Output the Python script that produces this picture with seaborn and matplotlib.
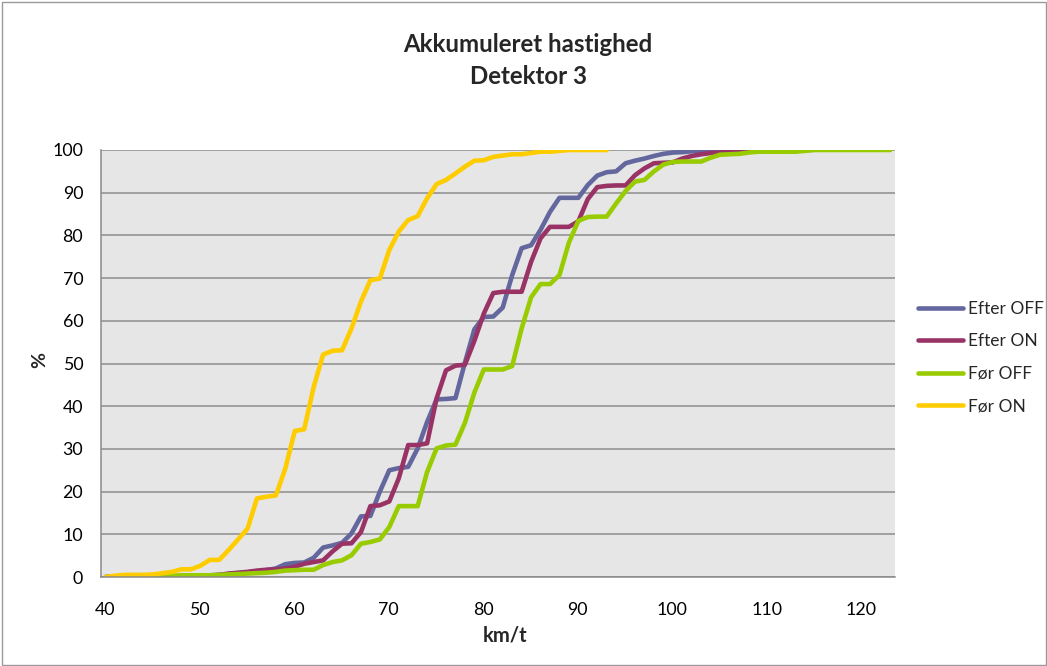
import matplotlib
matplotlib.use("Agg")
import matplotlib.pyplot as plt
import seaborn as sns
import pandas as pd
from matplotlib.transforms import ScaledTranslation
from matplotlib.patches import Rectangle

# ---------------- data ----------------
speeds = [40.5, 41.5, 42.5, 43.5, 44.5, 45.5, 46.5, 47.5, 48.5, 49.5,
          50.5, 51.5, 52.5, 53.5, 54.5, 55.5, 56.5, 57.5, 58.5, 59.5,
          60.5, 61.5, 62.5, 63.5, 64.5, 65.5, 66.5, 67.5, 68.5, 69.5,
          70.5, 71.5, 72.5, 73.5, 74.5, 75.5, 76.5, 77.5, 78.5, 79.5,
          80.5, 81.5, 82.5, 83.5, 84.5, 85.5, 86.5, 87.5, 88.5, 89.5,
          90.5, 91.5, 92.5, 93.5, 94.5, 95.5, 96.5, 97.5, 98.5, 99.5,
          100.5, 101.5, 102.5, 103.5, 104.5, 105.5, 106.5, 107.5, 108.5, 109.5,
          110.5, 111.5, 112.5, 113.5, 114.5, 115.5, 116.5, 117.5, 118.5, 119.5,
          120.5, 121.5, 122.5, 123.5]

efter_off = [0, 0, 0, 0, 0, 0, 0, 0, 0.1, 0.2,
             0.3, 0.4, 0.5, 0.7, 0.9, 1.1, 1.3, 1.6, 2.0, 3.0,
             3.3, 3.4, 4.5, 6.9, 7.4, 8.0, 10.2, 14.2, 14.3, 20.0,
             25.0, 25.5, 25.8, 30.1, 36.3, 41.6, 41.7, 41.9, 50.2, 58.0,
             60.9, 61.0, 63.1, 70.7, 77.0, 77.7, 81.3, 85.5, 88.8, 88.8,
             88.8, 91.8, 94.0, 94.8, 95.0, 96.9, 97.5, 98.0, 98.6, 99.1,
             99.4, 99.5, 99.7, 99.8, 100, 100, 100]

efter_on = [0, 0, 0, 0, 0, 0, 0, 0, 0, 0,
            0.1, 0.3, 0.5, 0.8, 1.0, 1.2, 1.5, 1.7, 1.8, 2.0,
            2.4, 3.1, 3.5, 3.9, 6.0, 7.8, 7.9, 10.5, 16.6, 16.8,
            17.7, 23.1, 30.9, 30.9, 31.3, 41.8, 48.4, 49.5, 49.7, 55.3,
            61.7, 66.5, 66.8, 66.8, 66.8, 73.8, 79.3, 82.0, 82.0, 82.0,
            83.3, 88.5, 91.3, 91.6, 91.7, 91.7, 94.1, 95.7, 96.9, 97.0,
            97.1, 98.0, 98.6, 99.0, 99.3, 99.4, 99.6, 99.8, 100, 100]

foer_off = [0, 0, 0, 0, 0, 0.1, 0.2, 0.3, 0.4, 0.4,
            0.4, 0.4, 0.5, 0.6, 0.7, 0.8, 0.9, 1.0, 1.2, 1.5,
            1.6, 1.7, 1.7, 2.8, 3.5, 3.9, 5.1, 7.8, 8.2, 8.8,
            11.7, 16.6, 16.6, 16.6, 24.6, 30.1, 30.8, 31.0, 36.1, 43.2,
            48.6, 48.6, 48.6, 49.4, 58.2, 65.5, 68.6, 68.6, 70.7, 78.3,
            83.4, 84.3, 84.4, 84.4, 87.5, 90.4, 92.6, 93.0, 95.0, 96.6,
            97.2, 97.3, 97.3, 97.3, 98.2, 98.9, 99.0, 99.1, 99.4, 99.6,
            99.6, 99.6, 99.6, 99.6, 99.8, 100, 100, 100, 100, 100,
            100, 100, 100, 100]

foer_on = [0, 0.3, 0.5, 0.5, 0.5, 0.6, 0.9, 1.2, 1.8, 1.8,
           2.6, 4.0, 4.0, 6.3, 8.8, 11.3, 18.4, 18.8, 19.1, 25.4,
           34.2, 34.6, 44.5, 52.1, 53.0, 53.1, 58.2, 64.5, 69.5, 69.9,
           76.6, 80.9, 83.6, 84.5, 88.7, 92.0, 93.0, 94.5, 96.1, 97.5,
           97.6, 98.4, 98.7, 99.0, 99.0, 99.3, 99.6, 99.6, 99.8, 100,
           100, 100, 100, 100]

series_names = ["Efter OFF", "Efter ON", "Før OFF", "Før ON"]
series_values = [efter_off, efter_on, foer_off, foer_on]
colors = ["#64679e", "#993366", "#99cc00", "#ffcc00"]

x_ticks = [40, 50, 60, 70, 80, 90, 100, 110, 120]
y_ticks = [0, 10, 20, 30, 40, 50, 60, 70, 80, 90, 100]

title_lines = ["Akkumuleret hastighed", "Detektor 3"]
x_label = "km/t"
y_label = "%"

# ---------------- long table ----------------
rows = []
for name, vals in zip(series_names, series_values):
    for s, v in zip(speeds[:len(vals)], vals):
        rows.append({"km/t": s, "pct": v, "serie": name})
df = pd.DataFrame(rows)

# ---------------- style ----------------
sns.set_style("white")
plt.rcParams["font.family"] = ["Lato", "DejaVu Sans"]

W, H = 1047, 666
fig = plt.figure(figsize=(W / 100, H / 100), dpi=100)
L, R, T, B = 101, 895, 150, 577
ax = fig.add_axes([L / W, 1 - B / H, (R - L) / W, (B - T) / H])

sns.lineplot(data=df, x="km/t", y="pct", hue="serie", hue_order=series_names,
             palette=dict(zip(series_names, colors)), linewidth=3.3,
             estimator=None, sort=False, ax=ax)
for ln in ax.get_lines():
    ln.set_solid_joinstyle("round")
    ln.set_solid_capstyle("round")

ax.set_facecolor("#e6e6e6")
ax.set_xlim(40, 124)
ax.set_ylim(0, 100)
ax.set_xticks(x_ticks)
ax.set_yticks(y_ticks)
ax.yaxis.grid(True, color="#8c8c8c", linewidth=1.1)
ax.xaxis.grid(False)
ax.set_axisbelow(True)
for sp in ["top", "right"]:
    ax.spines[sp].set_visible(False)
for sp in ["left", "bottom"]:
    ax.spines[sp].set_color("#8a8a8a")
    ax.spines[sp].set_linewidth(1.1)
ax.tick_params(axis="both", direction="out", length=4.3, width=1, color="#8a8a8a",
               labelsize=12.8, labelcolor="black")
ax.tick_params(axis="x", pad=13.5)
ax.tick_params(axis="y", pad=8.5)
for lab in ax.get_xticklabels():
    lab.set_transform(lab.get_transform() + ScaledTranslation(4 / 100, 0, fig.dpi_scale_trans))
ax.set_xlabel("")
ax.set_ylabel("")

fig.text(505 / W, 1 - 635 / H, x_label, ha="center", va="center",
         fontsize=14.5, fontweight="bold")
fig.text(40 / W, 1 - 360 / H, y_label, ha="center", va="center", rotation=90,
         fontsize=14, fontweight="bold")

fig.text(528 / W, 1 - 44 / H, title_lines[0], ha="center", va="center",
         fontsize=17.3, fontweight="bold")
fig.text(528 / W, 1 - 77 / H, title_lines[1], ha="center", va="center",
         fontsize=17.3, fontweight="bold")

handles, labels = ax.get_legend_handles_labels()
leg = ax.legend(handles, labels, loc="upper left",
                bbox_to_anchor=(918 / W, 1 - 301 / H), bbox_transform=fig.transFigure,
                frameon=False, fontsize=12.5, handlelength=2.6, handletextpad=0.3,
                labelspacing=0.95, borderpad=0, borderaxespad=0)
for lh in leg.get_lines():
    lh.set_linewidth(3.3)
    lh.set_solid_capstyle("round")

fig.patches.append(Rectangle((1.5 / W, 1.5 / H), (W - 3) / W, (H - 3) / H,
                             transform=fig.transFigure, fill=False,
                             edgecolor="#9a9a9a", linewidth=1))

fig.savefig("out.png", dpi=100, facecolor="white")
